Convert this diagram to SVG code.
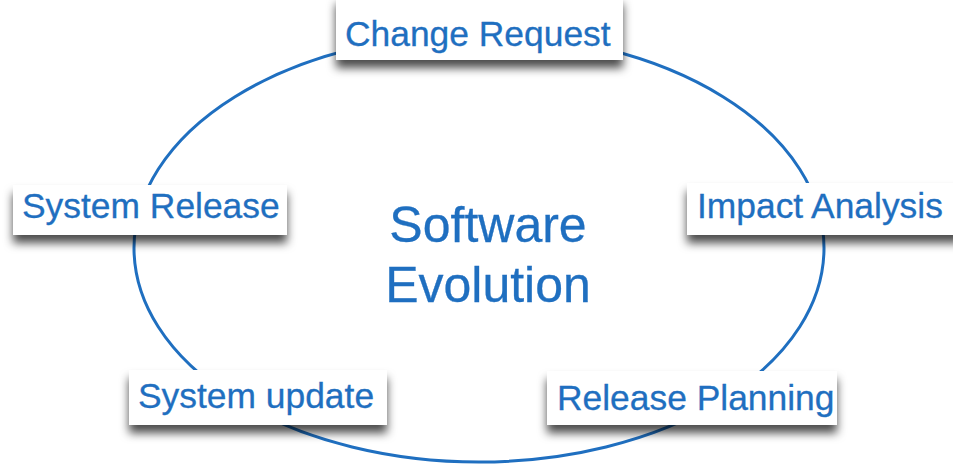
<svg xmlns="http://www.w3.org/2000/svg" width="953" height="467" viewBox="0 0 953 467">
<style>
.lbl{font-family:"Liberation Sans",Arial,sans-serif;font-size:35.4px;fill:#1f6fc0;stroke:#1f6fc0;stroke-width:0.3}
.big{font-family:"Liberation Sans",Arial,sans-serif;font-size:50px;fill:#1f6fc0;stroke:#1f6fc0;stroke-width:0.3;text-anchor:middle}
.box{fill:#ffffff;filter:url(#sh)}
.conn{fill:none;stroke:#1f6fc0;stroke-width:3}
</style>
<defs>
<filter id="sh" x="-10%" y="-30%" width="120%" height="180%">
<feDropShadow dx="0" dy="8" stdDeviation="5" flood-color="#000" flood-opacity="0.7"/>
</filter>
</defs>
<rect width="953" height="467" fill="#ffffff"/>
<g id="connectors">
<ellipse class="conn" cx="479" cy="248" rx="345" ry="214"/>
</g>
<g id="center">
<text class="big" x="488" y="242">Software</text>
<text class="big" x="488" y="302">Evolution</text>
</g>
<g id="change-request">
<rect class="box" x="336" y="-4" width="287" height="64"/>
<text class="lbl" x="345" y="46">Change Request</text>
</g>
<g id="system-release">
<rect class="box" x="13" y="185" width="274" height="50"/>
<text class="lbl" x="22" y="218">System Release</text>
</g>
<g id="impact-analysis">
<rect class="box" x="687" y="183" width="275" height="52"/>
<text class="lbl" x="697" y="218">Impact Analysis</text>
</g>
<g id="system-update">
<rect class="box" x="129" y="370" width="258" height="55"/>
<text class="lbl" x="138" y="408">System update</text>
</g>
<g id="release-planning">
<rect class="box" x="547" y="371" width="290" height="54"/>
<text class="lbl" x="557" y="410">Release Planning</text>
</g>
</svg>
